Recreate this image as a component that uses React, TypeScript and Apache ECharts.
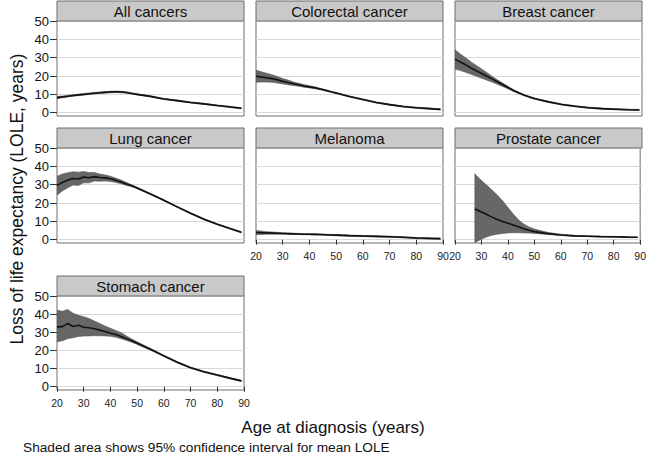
import React, { useEffect, useRef } from "react";
import * as echarts from "echarts";

// ---------- DATA ----------
const ages = [20, 22, 24, 26, 28, 30, 32, 34, 36, 38, 40, 42, 44, 46, 48, 50, 55, 60, 65, 70, 75, 80, 85, 89];
const prostateAges = [27.5, 28, 29, 30, 31, 32, 33, 34, 36, 38, 40, 42, 44, 46, 48, 50, 55, 60, 65, 70, 75, 80, 85, 89];

const allMean = [8.2, 8.6, 9.0, 9.4, 9.7, 10.0, 10.3, 10.6, 10.9, 11.1, 11.3, 11.4, 11.3, 11.0, 10.5, 10.0, 8.9, 7.5, 6.6, 5.6, 4.8, 3.9, 3.1, 2.4];
const allLower = [7.6, 8.1, 8.6, 9.0, 9.3, 9.6, 9.9, 10.2, 10.5, 10.7, 10.9, 11.0, 10.9, 10.6, 10.2, 9.7, 8.6, 7.2, 6.3, 5.3, 4.5, 3.6, 2.8, 2.1];
const allUpper = [8.8, 9.1, 9.4, 9.8, 10.1, 10.4, 10.7, 11.0, 11.3, 11.5, 11.7, 11.8, 11.7, 11.4, 10.8, 10.3, 9.2, 7.8, 6.9, 5.9, 5.1, 4.2, 3.4, 2.7];

const colorectalMean = [19.9, 19.5, 19.1, 18.6, 17.9, 17.1, 16.5, 15.8, 15.2, 14.6, 14.1, 13.6, 12.9, 12.2, 11.4, 10.7, 8.8, 7.2, 5.6, 4.4, 3.4, 2.7, 2.2, 1.8];
const colorectalUpper = [23.2, 22.3, 21.5, 20.7, 19.7, 18.6, 17.8, 16.8, 16.0, 15.3, 14.7, 14.1, 13.3, 12.6, 11.7, 11.0, 9.1, 7.5, 5.9, 4.7, 3.7, 3.0, 2.5, 2.1];
const colorectalLower = [16.6, 16.7, 16.7, 16.6, 16.2, 15.7, 15.2, 14.8, 14.4, 13.9, 13.5, 13.1, 12.5, 11.8, 11.1, 10.4, 8.5, 6.9, 5.3, 4.1, 3.1, 2.4, 1.9, 1.5];

const breastMean = [29.2, 27.6, 26.1, 24.4, 22.8, 21.4, 19.9, 18.3, 16.7, 15.2, 13.6, 12.0, 10.7, 9.5, 8.5, 7.6, 5.9, 4.5, 3.5, 2.7, 2.2, 1.9, 1.6, 1.5];
const breastUpper = [34.3, 32.0, 29.9, 27.7, 25.7, 23.8, 21.8, 19.8, 17.8, 16.0, 14.2, 12.5, 11.1, 9.8, 8.8, 7.9, 6.2, 4.8, 3.8, 3.0, 2.5, 2.2, 1.9, 1.8];
const breastLower = [23.8, 23.0, 22.0, 21.0, 19.9, 18.8, 17.7, 16.6, 15.4, 14.2, 12.9, 11.5, 10.3, 9.2, 8.2, 7.3, 5.6, 4.2, 3.2, 2.4, 1.9, 1.6, 1.3, 1.2];

const lungMean = [29.6, 31.2, 32.4, 33.4, 33.1, 34.2, 33.8, 34.4, 33.9, 33.7, 33.2, 32.4, 31.5, 30.4, 29.4, 28.2, 24.9, 21.5, 17.9, 14.4, 11.2, 8.4, 6.0, 4.0];
const lungUpper = [34.6, 35.8, 36.5, 37.0, 36.8, 37.2, 36.6, 36.6, 35.8, 35.3, 34.6, 33.6, 32.5, 31.2, 29.9, 28.6, 25.2, 21.8, 18.2, 14.7, 11.5, 8.7, 6.3, 4.3];
const lungLower = [24.3, 26.6, 28.3, 29.8, 29.6, 31.0, 31.0, 32.0, 31.9, 32.0, 31.8, 31.2, 30.5, 29.6, 28.9, 27.8, 24.6, 21.2, 17.6, 14.1, 10.9, 8.1, 5.7, 3.7];

const melanomaMean = [3.9, 3.8, 3.7, 3.6, 3.5, 3.4, 3.3, 3.2, 3.1, 3.0, 2.95, 2.9, 2.8, 2.7, 2.6, 2.5, 2.2, 2.0, 1.8, 1.6, 1.3, 0.9, 0.7, 0.6];
const melanomaUpper = [5.0, 4.7, 4.4, 4.2, 4.0, 3.8, 3.6, 3.5, 3.4, 3.3, 3.25, 3.2, 3.1, 3.0, 2.9, 2.8, 2.5, 2.3, 2.1, 1.9, 1.6, 1.2, 1.0, 0.9];
const melanomaLower = [2.7, 2.9, 3.0, 3.0, 3.0, 3.0, 3.0, 2.9, 2.8, 2.7, 2.65, 2.6, 2.5, 2.4, 2.3, 2.2, 1.9, 1.7, 1.5, 1.3, 1.0, 0.6, 0.4, 0.3];

const prostateMean = [16.8, 16.5, 15.8, 15.1, 14.4, 13.7, 13.0, 12.3, 11.0, 9.9, 9.0, 8.0, 7.0, 6.0, 5.1, 4.4, 3.3, 2.6, 2.1, 1.9, 1.7, 1.6, 1.4, 1.3];
const prostateUpper = [36.0, 35.2, 33.7, 32.3, 31.0, 29.7, 28.4, 27.1, 24.3, 21.2, 17.6, 14.0, 10.9, 8.5, 6.9, 5.8, 4.0, 3.0, 2.4, 2.1, 1.9, 1.8, 1.6, 1.5];
const prostateLower = [-1.6, -1.2, -0.4, 0.3, 0.9, 1.5, 2.0, 2.4, 3.0, 3.4, 3.7, 3.8, 3.8, 3.7, 3.6, 3.4, 2.9, 2.3, 1.9, 1.7, 1.5, 1.4, 1.2, 1.1];

const stomachMean = [33.0, 33.1, 34.8, 33.2, 33.9, 32.8, 32.5, 31.9, 31.2, 30.4, 29.5, 28.8, 27.7, 26.5, 25.3, 24.0, 20.6, 17.0, 13.5, 10.5, 8.2, 6.4, 4.6, 3.2];
const stomachUpper = [42.2, 41.6, 42.6, 40.5, 39.4, 38.6, 37.6, 36.2, 34.8, 33.4, 32.2, 31.0, 29.8, 28.0, 26.3, 24.8, 21.1, 17.4, 13.9, 10.8, 8.5, 6.7, 4.9, 3.5];
const stomachLower = [24.8, 25.3, 26.5, 27.0, 27.7, 27.9, 28.0, 28.1, 28.1, 28.0, 27.8, 27.3, 26.4, 25.5, 24.5, 23.3, 20.1, 16.6, 13.1, 10.2, 7.9, 6.1, 4.3, 2.9];

const panelTitles = ["All cancers", "Colorectal cancer", "Breast cancer", "Lung cancer", "Melanoma", "Prostate cancer", "Stomach cancer"];

const yTickMin = 0;
const yTickMax = 50;
const yTickStep = 10;
const xMin = 20;
const xMax = 90;
const xStep = 10;

const yAxisTitle = "Loss of life expectancy (LOLE, years)";
const xAxisTitle = "Age at diagnosis (years)";
const footnote = "Shaded area shows 95% confidence interval for mean LOLE";

// ---------- LAYOUT (positions / styles) ----------
const colLeft = [57, 256, 455];
const panelW = 187;
const rows = [
  { head: 1, top: 21, bottom: 116 },
  { head: 128, top: 148, bottom: 243 },
  { head: 276, top: 296, bottom: 390 },
];
const zeroGap = 3.3;
const FONT = "'Liberation Sans', Arial, Helvetica, sans-serif";

const panels = [
  { title: panelTitles[0], row: 0, col: 0, ages, mean: allMean, lo: allLower, hi: allUpper, showY: true, showX: false },
  { title: panelTitles[1], row: 0, col: 1, ages, mean: colorectalMean, lo: colorectalLower, hi: colorectalUpper, showY: false, showX: false },
  { title: panelTitles[2], row: 0, col: 2, ages, mean: breastMean, lo: breastLower, hi: breastUpper, showY: false, showX: false },
  { title: panelTitles[3], row: 1, col: 0, ages, mean: lungMean, lo: lungLower, hi: lungUpper, showY: true, showX: false },
  { title: panelTitles[4], row: 1, col: 1, ages, mean: melanomaMean, lo: melanomaLower, hi: melanomaUpper, showY: false, showX: true },
  { title: panelTitles[5], row: 1, col: 2, ages: prostateAges, mean: prostateMean, lo: prostateLower, hi: prostateUpper, showY: false, showX: true },
  { title: panelTitles[6], row: 2, col: 0, ages, mean: stomachMean, lo: stomachLower, hi: stomachUpper, showY: true, showX: true },
];

function buildOption() {
  const grid: any[] = [];
  const xAxis: any[] = [];
  const yAxis: any[] = [];
  const series: any[] = [];
  const graphic: any[] = [];

  panels.forEach((p, i) => {
    const r = rows[p.row];
    const left = colLeft[p.col];
    const dispH = r.bottom - zeroGap - r.top;
    const dataH = r.bottom - r.top;
    const pxPerUnit = dispH / (yTickMax - yTickMin);
    const dataMin = yTickMin - zeroGap / pxPerUnit;
    const gDisp = 2 * i;
    const gData = 2 * i + 1;

    grid.push({ left, top: r.top, width: panelW, height: dispH, show: false });
    grid.push({
      left, top: r.top, width: panelW, height: dataH, show: true,
      borderColor: "#6c6c6c", borderWidth: 1, backgroundColor: "transparent",
    });

    xAxis.push({ gridIndex: gDisp, type: "value", min: xMin, max: xMax, show: false });
    xAxis.push({
      gridIndex: gData, type: "value", min: xMin, max: xMax, interval: xStep,
      axisLine: { show: false },
      axisTick: { show: p.showX, length: 5, lineStyle: { color: "#333", width: 1 } },
      axisLabel: { show: p.showX, fontSize: 10.5, color: "#222", margin: 7, fontFamily: FONT },
      splitLine: { show: false },
    });

    yAxis.push({
      gridIndex: gDisp, type: "value", min: yTickMin, max: yTickMax, interval: yTickStep,
      axisLine: { show: false },
      axisTick: { show: p.showY, length: 7, lineStyle: { color: "#333", width: 1 } },
      axisLabel: { show: p.showY, fontSize: 13, color: "#111", margin: 8, fontFamily: FONT },
      splitLine: { show: true, lineStyle: { color: "#d9d9d9", width: 1 } },
    });
    yAxis.push({ gridIndex: gData, type: "value", min: dataMin, max: yTickMax, show: false });

    const pAges = p.ages;
    const lo = p.lo;
    const hi = p.hi;
    series.push({
      type: "custom",
      xAxisIndex: gData,
      yAxisIndex: gData,
      silent: true,
      clip: true,
      z: 2,
      data: pAges.map((a, k) => [a, lo[k], hi[k]]),
      encode: { x: 0, y: [1, 2] },
      renderItem: (params: any, api: any) => {
        if (params.dataIndex !== 0) return null;
        const up = pAges.map((a, k) => api.coord([a, hi[k]]));
        const dn = pAges.map((a, k) => api.coord([a, lo[k]])).reverse();
        return {
          type: "polygon",
          shape: { points: up.concat(dn) },
          style: { fill: "#676767", stroke: "#555555", lineWidth: 0.6 },
        };
      },
    });
    series.push({
      type: "line",
      xAxisIndex: gData,
      yAxisIndex: gData,
      silent: true,
      z: 3,
      symbol: "none",
      data: pAges.map((a, k) => [a, p.mean[k]]),
      lineStyle: { color: "#111", width: 1.6 },
    });

    graphic.push({
      type: "rect",
      shape: { x: left, y: r.head, width: panelW, height: r.top - r.head },
      style: { fill: "#c9c9c9", stroke: "#6c6c6c", lineWidth: 1 },
      z: 10,
    });
    graphic.push({
      type: "text",
      x: left + panelW / 2,
      y: r.head + (r.top - r.head) / 2 + 0.5,
      style: {
        text: p.title, fontSize: 15, fill: "#111", fontFamily: FONT,
        textAlign: "center", textVerticalAlign: "middle",
      },
      z: 11,
    });
  });

  graphic.push({
    type: "text",
    x: 17,
    y: 199,
    rotation: Math.PI / 2,
    style: {
      text: yAxisTitle, fontSize: 17.5, fill: "#111", fontFamily: FONT,
      textAlign: "center", textVerticalAlign: "middle",
    },
  });
  graphic.push({
    type: "text",
    x: 333,
    y: 427,
    style: {
      text: xAxisTitle, fontSize: 17, fill: "#111", fontFamily: FONT,
      textAlign: "center", textVerticalAlign: "middle",
    },
  });
  graphic.push({
    type: "text",
    x: 23,
    y: 447,
    style: {
      text: footnote, fontSize: 13.7, fill: "#111", fontFamily: FONT,
      textAlign: "left", textVerticalAlign: "middle",
    },
  });

  return {
    animation: false,
    backgroundColor: "#ffffff",
    textStyle: { fontFamily: FONT },
    grid,
    xAxis,
    yAxis,
    series,
    graphic,
  };
}

export default function App() {
  const ref = useRef<HTMLDivElement>(null);
  useEffect(() => {
    if (!ref.current) return;
    const chart = echarts.init(ref.current, undefined, { renderer: "svg" });
    chart.setOption(buildOption() as any);
    return () => chart.dispose();
  }, []);
  return (
    <div
      ref={ref}
      style={{ position: "absolute", left: 0, top: 0, width: 649, height: 454, background: "#fff" }}
    />
  );
}
